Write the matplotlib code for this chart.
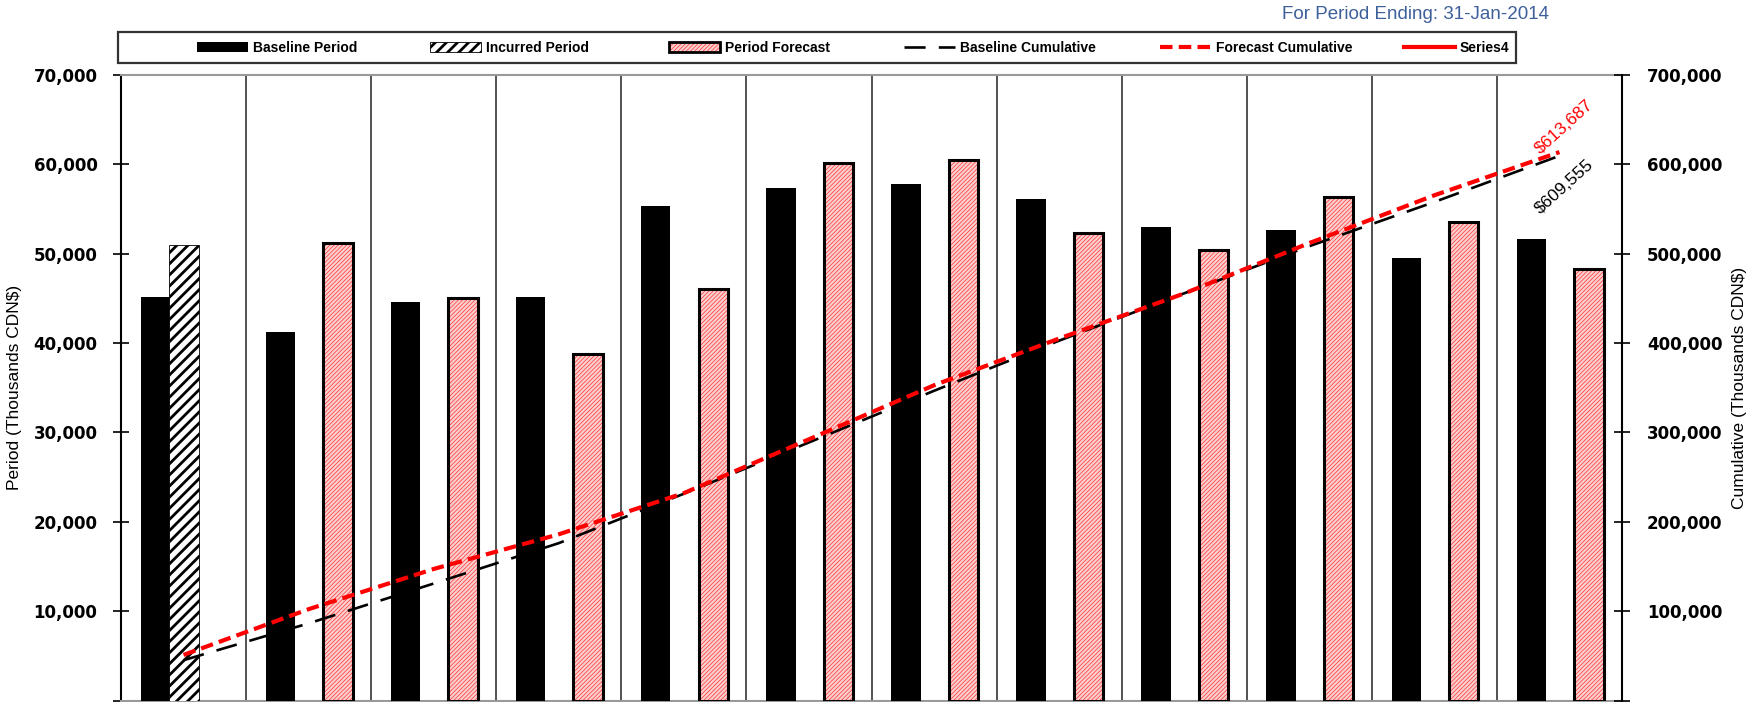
import numpy as np
import matplotlib
matplotlib.use('Agg')
import matplotlib.pyplot as plt
from matplotlib.patches import Patch, Rectangle
from matplotlib.lines import Line2D
from matplotlib.legend_handler import HandlerTuple

plt.rcParams['font.family'] = ['Liberation Sans', 'DejaVu Sans']

# 12 periods, values in thousands CDN$
periods = np.arange(12)
baseline_period = [45100, 41200, 44600, 45200, 55300, 57400, 57800, 56100, 53000, 52700, 49500, 51655]
incurred_period = [51000]  # only the first period is incurred
period_forecast = [51200, 45000, 38800, 46100, 60200, 60500, 52300, 50400, 56400, 53500, 48287]  # periods 2-12
baseline_cum = [45100, 86300, 130900, 176100, 231400, 288800, 346600, 402700, 455700, 508400, 557900, 609555]
forecast_cum = [51000, 102200, 147200, 186000, 232100, 292300, 352800, 405100, 455500, 511900, 565400, 613687]

left_ticks = list(range(0, 70001, 10000))
right_ticks = list(range(0, 700001, 100000))

W, H = 1754, 702
fig = plt.figure(figsize=(W / 100, H / 100), dpi=100)
ax = fig.add_axes([121 / W, 1.5 / H, 1501 / W, (700.5 - 75) / H])
ax2 = ax.twinx()

pink = '#fccfcf'
hatch_red = '#ff3333'
fine_hatch = '////////'
w = 0.235

ax.bar(periods - 0.225, baseline_period, w, color='black', lw=0, zorder=3)
inc = ax.bar(periods[:1] + 0.005, incurred_period, w, facecolor='white',
             edgecolor='black', hatch='///', lw=0.6, zorder=3)
fc = ax.bar(periods[1:] + 0.235, period_forecast, w, facecolor=pink,
            edgecolor=hatch_red, hatch=fine_hatch, lw=0, zorder=3)
ax.bar(periods[1:] + 0.235, period_forecast, w, fill=False,
       edgecolor='black', lw=2.2, zorder=4)


def hatch_lw(patches, lw):
    for p in patches:
        if hasattr(p, 'set_hatch_linewidth'):
            p.set_hatch_linewidth(lw)


hatch_lw(inc, 2.0)
hatch_lw(fc, 0.5)

# vertical separators between periods
for b in periods[:-1] + 0.5:
    ax.axvline(b, color='#333333', lw=1.2, zorder=2)

ax2.plot(periods, baseline_cum, color='black', lw=1.9, dashes=(8, 5), zorder=5)
ax2.plot(periods, forecast_cum, color='red', lw=3, dashes=(3, 1.5), zorder=6)

ax2.text(11.04, 641400, '$613,687', color='red', rotation=42, ha='center',
         va='center', fontsize=12.5, rotation_mode='anchor')
ax2.text(11.04, 575300, '$609,555', color='black', rotation=42, ha='center',
         va='center', fontsize=12.5, rotation_mode='anchor')

ax.set_xlim(-0.5, 11.5)
ax.set_ylim(0, 70000)
ax2.set_ylim(0, 700000)
ax.set_xticks([])

ax.set_yticks(left_ticks)
ax.set_yticklabels(['' if v == 0 else f'{v:,}' for v in left_ticks],
                   family='DejaVu Sans', fontweight='bold', fontsize=12)
ax2.set_yticks(right_ticks)
ax2.set_yticklabels(['' if v == 0 else f'{v:,}' for v in right_ticks],
                    family='DejaVu Sans', fontweight='bold', fontsize=12)
ax.tick_params(axis='y', direction='inout', length=12, width=1.2, pad=11)
ax2.tick_params(axis='y', direction='inout', length=12, width=1.2, pad=12)

for s in ['top', 'bottom']:
    ax.spines[s].set_color('#999999')
    ax.spines[s].set_linewidth(1.5)
    ax2.spines[s].set_visible(False)
ax.spines['left'].set_linewidth(1.5)
ax.spines['right'].set_visible(False)
ax2.spines['left'].set_visible(False)
ax2.spines['right'].set_linewidth(1.5)

ax.set_ylabel('Period (Thousands CDN$)', fontsize=12.5)
ax.yaxis.set_label_coords(-0.066, 0.5)
ax2.set_ylabel('Cumulative (Thousands CDN$)', fontsize=12.5)
ax2.yaxis.set_label_coords(1.0733, 0.5)

fig.text(1415 / W, 1 - 14.5 / H, 'For Period Ending: 31-Jan-2014', ha='center',
         va='center', color='#3e609a', fontsize=13.5)

# legend frame + entries
fig.add_artist(Rectangle((118 / W, 1 - 63 / H), (1516 - 118) / W, 31 / H,
                         transform=fig.transFigure, fill=False,
                         edgecolor='#333333', lw=1.6))

inc_h = Patch(facecolor='white', edgecolor='black', hatch='///', lw=0.6)
fc_h = (Patch(facecolor=pink, edgecolor=hatch_red, hatch=fine_hatch, lw=0),
        Patch(fill=False, edgecolor='black', lw=2))
handles = [Patch(facecolor='black', lw=0), inc_h, fc_h,
           Line2D([], [], color='black', lw=1.9, dashes=(8, 5)),
           Line2D([], [], color='red', lw=3, dashes=(3, 1.5)),
           Line2D([], [], color='red', lw=3)]
labels = ['Baseline Period', 'Incurred Period', 'Period Forecast',
          'Baseline Cumulative', 'Forecast Cumulative', 'Series4']
starts = [197, 430, 669, 904, 1160, 1404]
legend_font = dict(family=['Liberation Sans Narrow', 'Liberation Sans'],
                   weight='bold', size=10)
for h, lab, xs in zip(handles, labels, starts):
    lg = fig.legend([h], [lab], loc='center left', bbox_to_anchor=(xs / W, 1 - 47.5 / H),
                    frameon=False, borderpad=0, borderaxespad=0, handlelength=3.7,
                    handleheight=0.75, handletextpad=0.3, prop=legend_font,
                    handler_map={tuple: HandlerTuple(ndivide=1)})
    if lab == 'Incurred Period':
        hatch_lw(lg.legend_handles, 2.0)
    if lab == 'Period Forecast':
        for a in lg.get_children()[0].findobj(Rectangle):
            if a.get_hatch():
                hatch_lw([a], 0.5)

fig.savefig('out.png', dpi=100)
